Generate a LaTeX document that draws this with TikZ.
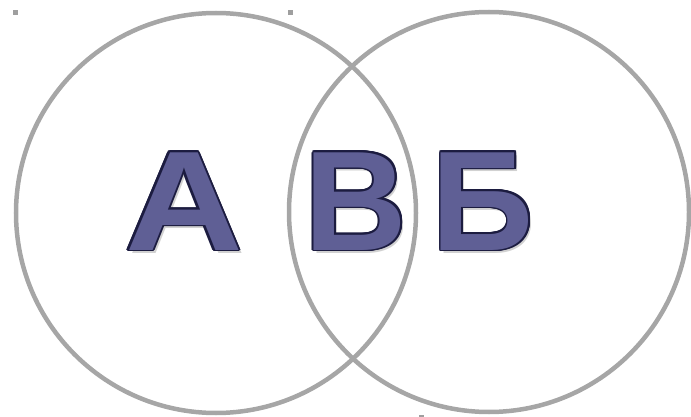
\documentclass[tikz,border=0pt]{standalone}
\usepackage{fontspec}
\setmainfont{Liberation Sans}
\usepackage{contour}
\contourlength{1.8pt}
\definecolor{ringgray}{HTML}{A6A6A6}
\definecolor{letterfill}{HTML}{5F5F95}
\definecolor{letterline}{HTML}{1C1C40}
\tikzset{
  ring/.style={circle, draw=ringgray, line width=4.5pt, minimum size=400pt,
               inner sep=0pt},
  lbl/.style={anchor=base, inner sep=0pt, text=letterfill,
              font=\fontsize{142}{142}\selectfont\bfseries},
  shadow/.style={lbl, text=black!18},
  handle/.style={rectangle, fill=gray!75, minimum size=5pt, inner sep=0pt},
}
\begin{document}
\begin{tikzpicture}[x=1pt, y=-1pt]
  \useasboundingbox (0,0) rectangle (691,417);
  % the two sets
  \node[ring] (setA) at (216,213) {};
  \node[ring] (setB) at (489,212) {};
  % soft shadows behind the letters
  \node[shadow] (shA) at (187,253) {\scalebox{1.15}[1]{А}};
  \node[shadow] (shV) at (359,253) {В};
  \node[shadow] (shB) at (486,253) {Б};
  % letters
  \node[lbl] (letA) at (184,250) {\scalebox{1.15}[1]{\contour{letterline}{А}}};
  \node[lbl] (letV) at (356,250) {\contour{letterline}{В}};
  \node[lbl] (letB) at (483,250) {\contour{letterline}{Б}};
  % selection handles
  \node[handle] (h1) at (15,13) {};
  \node[handle] (h2) at (290,13) {};
  \node[handle] (h3) at (421,417) {};
\end{tikzpicture}
\end{document}
